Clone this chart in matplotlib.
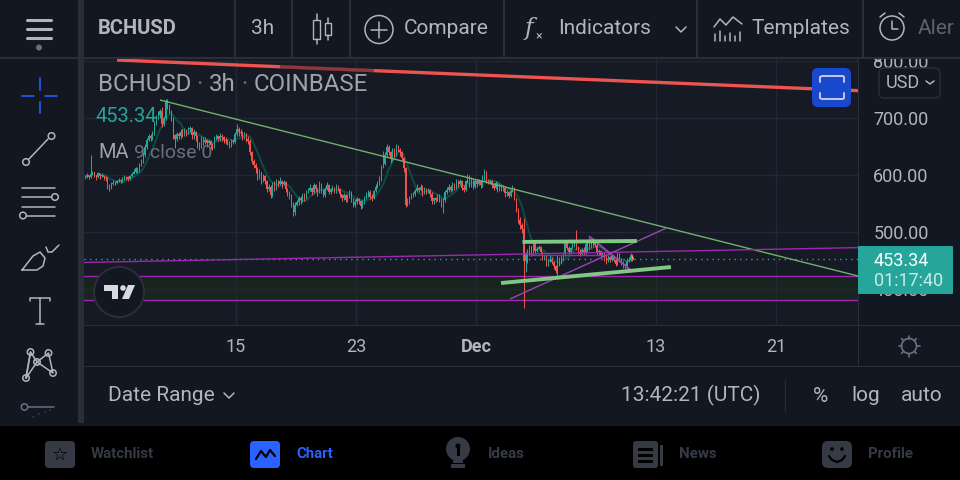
import matplotlib
matplotlib.use('Agg')
import matplotlib.pyplot as plt
import numpy as np
import pandas as pd
from matplotlib.patches import Circle, FancyBboxPatch, Polygon, Rectangle

plt.rcParams['font.family'] = ['Roboto', 'DejaVu Sans']

# 3h candles, 8 per row = one day
closes = [
    597, 600, 596, 602, 605, 600, 597, 603,
    598, 600, 597, 595, 582, 578, 585, 587,
    586, 590, 592, 590, 593, 597, 596, 594,
    598, 602, 606, 612, 608, 618, 624, 636,
    650, 662, 668, 665, 672, 690, 700, 705,
    712, 690, 700, 730, 722, 712, 700, 670,
    664, 672, 668, 676, 670, 678, 672, 680,
    682, 670, 675, 668, 656, 650, 664, 658,
    662, 656, 660, 652, 650, 664, 668, 664,
    668, 666, 662, 660, 658, 652, 660, 658,
    672, 680, 676, 674, 668, 672, 664, 660,
    640, 625, 618, 612, 598, 605, 590, 598,
    590, 575, 580, 565, 585, 578, 590, 585,
    590, 584, 588, 575, 570, 565, 548, 535,
    548, 552, 560, 556, 565, 560, 570, 574,
    578, 570, 582, 575, 570, 585, 572, 565,
    576, 582, 570, 575, 578, 572, 580, 576,
    566, 560, 565, 556, 562, 570, 558, 548,
    552, 558, 555, 546, 552, 560, 566, 570,
    562, 560, 572, 580, 586, 592, 612, 620,
    636, 650, 640, 628, 645, 636, 650, 644,
    640, 630, 612, 548, 552, 560, 564, 566,
    572, 578, 574, 580, 568, 576, 570, 574,
    566, 554, 560, 556, 564, 558, 548, 556,
    570, 574, 580, 574, 584, 578, 590, 585,
    590, 578, 574, 590, 598, 584, 592, 580,
    590, 585, 590, 582, 598, 606, 590, 588,
    590, 582, 578, 586, 574, 582, 576, 578,
    568, 570, 564, 572, 578, 558, 540, 522,
    512, 505, 450, 463, 466, 475, 462, 479,
    467, 471, 474, 465, 454, 458, 442, 450,
    452, 448, 440, 432, 452, 448, 455, 462,
    483, 472, 466, 472, 478, 479, 470, 466,
    462, 468, 464, 480, 470, 484, 476, 486,
    478, 464, 467, 459, 462, 454, 449, 456,
    451, 458, 452, 444, 462, 452, 447, 442,
    440, 450, 452, 460, 453.34,
]
highs = [
    601, 603, 601, 635, 608, 606, 601, 606,
    604, 603, 601, 599, 597, 585, 588, 591,
    590, 592, 595, 594, 596, 600, 599, 598,
    601, 606, 610, 615, 614, 621, 628, 640,
    655, 665, 672, 672, 678, 694, 705, 712,
    716, 720, 704, 733, 733, 724, 714, 702,
    672, 676, 675, 680, 680, 682, 680, 684,
    686, 684, 680, 678, 670, 658, 668, 666,
    666, 664, 664, 662, 656, 668, 672, 670,
    674, 672, 668, 666, 664, 660, 664, 664,
    676, 690, 684, 680, 678, 676, 674, 668,
    664, 642, 628, 622, 614, 610, 606, 602,
    600, 592, 584, 582, 588, 590, 594, 592,
    596, 592, 592, 590, 578, 572, 566, 552,
    552, 556, 564, 564, 568, 568, 574, 578,
    584, 580, 586, 584, 578, 590, 586, 576,
    580, 588, 584, 578, 582, 580, 584, 582,
    578, 566, 568, 566, 566, 574, 572, 560,
    558, 562, 560, 556, 556, 564, 570, 574,
    574, 566, 574, 584, 590, 598, 618, 642,
    640, 654, 652, 642, 648, 648, 654, 652,
    648, 642, 632, 614, 560, 564, 568, 570,
    576, 584, 580, 584, 582, 580, 578, 578,
    576, 570, 562, 562, 566, 566, 560, 560,
    574, 580, 584, 582, 588, 586, 594, 592,
    594, 592, 582, 592, 602, 600, 596, 594,
    594, 594, 594, 592, 600, 610, 608, 594,
    594, 592, 586, 590, 588, 586, 584, 582,
    580, 574, 572, 576, 582, 580, 560, 542,
    526, 516, 525, 466, 470, 478, 476, 483,
    482, 474, 478, 476, 466, 462, 460, 454,
    460, 456, 450, 442, 460, 456, 460, 466,
    486, 484, 476, 474, 482, 482, 504, 476,
    470, 472, 474, 484, 484, 490, 488, 490,
    488, 482, 470, 468, 466, 466, 460, 460,
    458, 460, 460, 454, 466, 464, 454, 450,
    446, 454, 456, 463, 461,
]
lows = [
    593, 595, 593, 595, 600, 596, 592, 595,
    594, 596, 592, 590, 576, 572, 576, 582,
    582, 584, 588, 586, 588, 592, 592, 590,
    592, 596, 602, 604, 604, 606, 616, 622,
    632, 646, 660, 660, 662, 670, 688, 698,
    700, 685, 686, 696, 716, 708, 695, 664,
    647, 660, 664, 664, 666, 668, 668, 672,
    676, 664, 664, 660, 648, 644, 648, 652,
    654, 650, 652, 646, 644, 648, 662, 660,
    660, 660, 656, 654, 652, 648, 650, 654,
    656, 668, 668, 668, 662, 664, 658, 654,
    636, 620, 612, 604, 592, 594, 584, 588,
    584, 570, 572, 560, 562, 572, 574, 580,
    582, 578, 582, 570, 564, 558, 544, 528,
    530, 546, 548, 550, 552, 555, 558, 568,
    572, 565, 566, 570, 564, 568, 568, 562,
    562, 574, 566, 566, 572, 568, 568, 572,
    562, 555, 556, 552, 552, 560, 552, 544,
    544, 550, 550, 540, 542, 550, 558, 562,
    558, 555, 558, 570, 578, 582, 590, 612,
    618, 632, 636, 622, 624, 630, 634, 640,
    634, 624, 606, 544, 546, 550, 558, 562,
    564, 570, 570, 572, 564, 566, 566, 568,
    562, 550, 550, 552, 554, 552, 544, 533,
    552, 566, 570, 570, 572, 574, 576, 580,
    582, 574, 570, 572, 586, 580, 580, 576,
    578, 580, 582, 578, 580, 590, 586, 584,
    584, 578, 574, 576, 570, 572, 572, 572,
    562, 564, 560, 562, 570, 556, 536, 516,
    505, 498, 367, 431, 446, 458, 458, 460,
    464, 466, 470, 462, 452, 452, 440, 440,
    448, 444, 436, 428, 420, 440, 444, 452,
    458, 468, 462, 464, 470, 474, 468, 462,
    458, 460, 460, 462, 466, 468, 472, 474,
    474, 460, 460, 455, 456, 450, 445, 447,
    447, 450, 448, 440, 442, 448, 442, 438,
    436, 434, 448, 450, 450,
]
first_bar_day = -10.07   # days relative to Nov 15
bars_per_day = 8
last_price = 453.34

# drawn lines: (day start, price start, day end, price end)
green_thin = (-5.07, 731.5, 41.47, 423.3)
red_line = (-7.93, 801.5, 41.47, 747.8)
red_faded = (2.93, 789.8, 9.2, 783)
purple_long = (-10.13, 447, 41.47, 473)
purple_flat = (19.6, 460, 24.7, 460)
purple_up = (18.27, 383, 28.67, 507)
purple_down = (23.53, 493, 26.4, 432)
green_top = (19.1, 483, 26.73, 484.6)
green_bottom = (17.67, 411, 29, 439)
band_low, band_high = 381, 423

date_ticks = [0, 8, 16, 28, 36]
date_labels = ['15', '23', 'Dec', '13', '21']
price_ticks = [400, 500, 600, 700, 800]
price_labels = ['400.00', '500.00', '600.00', '700.00', '800.00']

BG = '#131722'
CHART_BG = '#161a25'
SEP = '#2a2e39'
TXT = '#b2b5be'
UP = '#26a69a'
DOWN = '#ef5350'
PURPLE = '#9c27b0'
LIGHT_GREEN = '#81c784'
NAV = '#363a45'
BLUE = '#2962ff'

fig = plt.figure(figsize=(9.6, 4.8), dpi=100, facecolor=BG)
ax = fig.add_axes([84 / 960, 1 - 325 / 480, 774 / 960, 267 / 480], facecolor=CHART_BG)
ax.set_xlim(-10.13, 41.47)
ax.set_ylim(337.5, 805)
ax.set_zorder(1)

ax.grid(color='#232733', lw=1, zorder=0.6)
ax.set_axisbelow(True)
ax.yaxis.tick_right()
ax.set_xticks(date_ticks, date_labels)
ax.set_yticks(price_ticks, price_labels)
ax.tick_params(axis='x', length=0, pad=9, labelsize=13, labelcolor=TXT)
ax.tick_params(axis='y', length=0, pad=11, labelsize=13, labelcolor=TXT)
for lab in ax.get_xticklabels():
    if lab.get_text() == 'Dec':
        lab.set_fontweight('bold')
for s in ax.spines.values():
    s.set_visible(False)

ax.axhspan(band_low, band_high, color='#172420', lw=0, zorder=0.4)
ax.axhline(band_low, color=PURPLE, lw=1, zorder=2)
ax.axhline(band_high, color=PURPLE, lw=1, zorder=2)

x = first_bar_day + np.arange(len(closes)) / bars_per_day
c = np.array(closes, dtype=float)
o = np.r_[c[0], c[:-1]]
colors = [UP if b >= a else DOWN for a, b in zip(o, c)]

ma = pd.Series(c).rolling(9).mean()
ax.plot(x, ma, color='#0b4a43', lw=1.5, zorder=3)
ax.vlines(x, lows, highs, colors=colors, lw=0.72, zorder=4)
ax.bar(x, np.abs(c - o), bottom=np.minimum(c, o), width=0.07, color=colors, lw=0, zorder=4)
ax.axhline(last_price, color=UP, lw=1, ls=(0, (1, 3)), zorder=4)
ax.plot([x[-1], x[-1] + 0.06], [last_price + 4, last_price], color='#f5b041', lw=1, zorder=5)


def seg(s, **kw):
    ax.plot([s[0], s[2]], [s[1], s[3]], solid_capstyle='butt', **kw)


seg(red_line, color=DOWN, lw=2.4, zorder=5)
seg(red_faded, color=CHART_BG, lw=2.6, alpha=0.45, zorder=6)
seg(green_thin, color='#6fb06f', lw=1, zorder=5)
seg(purple_long, color=PURPLE, lw=1, zorder=5)
seg(purple_flat, color=PURPLE, lw=1, zorder=5)
seg(purple_up, color='#9a45b2', lw=1, zorder=5)
seg(purple_down, color='#9a45b2', lw=1.3, zorder=5)
seg(green_top, color=LIGHT_GREEN, lw=2.8, zorder=6)
seg(green_bottom, color=LIGHT_GREEN, lw=2.8, zorder=6)

# everything around the chart, in screen pixels
ui = fig.add_axes([0, 0, 1, 1])
ui.set_xlim(0, 960)
ui.set_ylim(480, 0)
ui.axis('off')
ui.set_zorder(2)
ui.patch.set_alpha(0)


def rect(x0, y0, x1, y1, color, **kw):
    ui.add_patch(Rectangle((x0, y0), x1 - x0, y1 - y0, color=color, lw=0, **kw))


def line(xs, ys, color=TXT, lw=1.1, **kw):
    ui.plot(xs, ys, color=color, lw=lw, solid_capstyle='round', **kw)


def ring(cx, cy, r, color=TXT, lw=1.1, face='none'):
    ui.add_patch(Circle((cx, cy), r, fc=face, ec=color, lw=lw))


def label(tx, ty, s, size=15, color=TXT, ha='left', **kw):
    # va center sits a bit high for these fonts
    ui.text(tx, ty + 1.5, s, fontsize=size, color=color, ha=ha, va='center', **kw)


def rbox(x0, y0, x1, y1, r, fc, ec='none', lw=0):
    ui.add_patch(FancyBboxPatch((x0 + r, y0 + r), x1 - x0 - 2 * r, y1 - y0 - 2 * r,
                                boxstyle='round,pad=%f' % r, fc=fc, ec=ec, lw=lw))


# panels
rect(0, 0, 960, 57, BG)
rect(0, 57, 78, 423, BG)
rect(78, 0, 84, 423, SEP)
rect(0, 57, 960, 58.5, SEP)
rect(858, 58, 859, 366, SEP)
rect(84, 325, 960, 326, SEP)
rect(84, 366, 960, 367, SEP)
rect(84, 367, 960, 426, BG)
rect(0, 426, 960, 480, '#000000')
for sx in [235, 292, 350, 504, 697, 863]:
    rect(sx - 0.7, 0, sx + 0.7, 57, SEP)

# top toolbar
for ly in [20, 28.5, 38]:
    line([27, 51], [ly, ly], lw=2.2)
ui.add_patch(Circle((39, 47.5), 3, fc='#6b6f7b', ec='none'))
label(98, 27, 'BCHUSD', size=14.5, fontweight='bold')
label(263, 27, '3h', ha='center')
ui.add_patch(Rectangle((313, 20), 7, 19, fc='none', ec=TXT, lw=1))
line([316.5, 316.5], [14, 20])
line([316.5, 316.5], [39, 44])
ui.add_patch(Rectangle((325, 23), 6, 12, fc='none', ec=TXT, lw=1))
line([328, 328], [18, 23])
line([328, 328], [35, 40])
ring(379, 29.5, 14)
line([371, 387], [29.5, 29.5])
line([379, 379], [21.5, 37.5])
label(404, 27, 'Compare')
ui.text(529, 28, 'f', fontsize=17, color=TXT, ha='center', va='center', fontstyle='italic', family='DejaVu Serif')
ui.text(539, 36, '\u00d7', fontsize=9, color=TXT, ha='center', va='center')
label(558, 27, 'Indicators')
line([676, 681, 686], [27, 32, 27])
line([714, 720, 726, 733, 742], [27, 19, 25, 17, 24])
for bx, by in zip([715, 720, 725, 730, 735, 740], [34, 31, 36, 33, 36, 32]):
    line([bx, bx], [by, 41])
label(751, 27, 'Templates')
ring(892, 28, 12)
line([892, 892, 898], [21, 29, 29])
line([880, 885], [17, 13])
line([899, 904], [13, 17])
label(918, 27, 'Alert', color='#5f626c')
rect(954, 0, 960, 56, BG, zorder=4)

# left toolbar
line([22, 34], [96, 96], color='#1f55d8', lw=1.4)
line([45, 57], [96, 96], color='#1f55d8', lw=1.4)
line([40, 40], [78, 90], color='#1f55d8', lw=1.4)
line([40, 40], [102, 113], color='#1f55d8', lw=1.4)
line([29, 48], [159, 139])
ring(26, 162, 3.3)
ring(51.5, 136, 3.3)
for ly, x0, x1 in [(188, 22, 55), (197, 22, 51), (206.5, 22, 55), (215.5, 27, 55)]:
    line([x0, x1], [ly, ly])
ring(55, 197, 3.3)
ring(23, 215.5, 3.3)
line([22, 33, 40, 45, 43, 37, 22], [270, 256, 252, 258, 266, 270, 270])
line([46, 48, 52, 59], [247, 252, 252, 245])
line([30, 30, 50, 50], [301, 298, 298, 301])
line([40, 40], [298, 324])
line([36, 44], [324, 324])
nodes_x = [30.5, 48.5, 37, 26, 53]
nodes_y = [352, 353, 362, 378, 373]
line([26, 30.5, 37, 48.5, 53, 37, 26], [378, 352, 362, 353, 373, 362, 378])
line([30.5, 26], [352, 378])
for nx, ny in zip(nodes_x, nodes_y):
    ring(nx, ny, 3.2, face=BG)
ring(24.5, 407, 3.2, color='#6b6f7b')
line([28, 54], [407, 407], color='#6b6f7b')
for dx, dy in zip([33, 39, 45, 50], [417, 414, 412, 410]):
    ui.add_patch(Circle((dx, dy), 0.7, fc='#555964', ec='none'))

# legend over the chart
label(98, 83, 'BCHUSD', size=17.3, color='#a0a3ac')
ui.text(199, 84, '\u00b7', fontsize=17.3, color='#6b6f7b', ha='center', va='center')
label(209, 83, '3h', size=17.3, color='#a0a3ac')
ui.text(244, 84, '\u00b7', fontsize=17.3, color='#6b6f7b', ha='center', va='center')
label(254, 83, 'COINBASE', size=17.3, color='#a0a3ac')
label(96, 115, '453.34', size=14.5, color=UP)
label(98, 151, 'MA', size=14.5, color='#a0a3ac')
label(134, 151, '9 close 0', size=14, color='#6b6f7b')

# tradingview badge
ring(119, 292, 25, color='#2a2e39', lw=1.5, face='#131722')
ui.add_patch(Polygon([(104, 285), (118, 285), (118, 299), (112, 299), (112, 291), (104, 291)], fc='#d8dae0', ec='none'))
ui.add_patch(Circle((123, 288), 2.8, fc='#d8dae0', ec='none'))
ui.add_patch(Polygon([(128, 285), (135, 285), (129, 299), (122, 299)], fc='#d8dae0', ec='none'))

# fullscreen button and currency box
rbox(812, 68, 851, 107, 6, '#1848cc')
line([820, 820, 822, 843, 844, 844], [82, 77, 76, 76, 77, 82], color='#c5cae9', lw=1.4)
line([820, 820, 822, 843, 844, 844], [93, 98, 99, 99, 98, 93], color='#c5cae9', lw=1.4)
rbox(879, 68, 940, 98, 5, BG, ec=SEP, lw=1)
label(886, 81, 'USD', size=13)
line([926, 930, 934], [81, 84, 81], lw=1.1)

# price tag
rbox(858, 246, 953, 294, 1, UP)
label(874, 259, '453.34', size=13, color='#ffffff')
label(874, 280, '01:17:40', size=13, color='#c8ebe6')

# gear in the scale corner
ring(909, 346, 7.5, color='#6b6f7b', lw=1.2)
for dx, dy in [(0, -1), (0, 1), (1, 0), (-1, 0), (0.7, 0.7), (-0.7, 0.7), (0.7, -0.7), (-0.7, -0.7)]:
    line([909 + 7.5 * dx, 909 + 10.5 * dx], [346 + 7.5 * dy, 346 + 10.5 * dy], color='#6b6f7b', lw=1.2)

# date range row
label(108, 394, 'Date Range')
line([224, 229, 234], [393, 398, 393])
label(621, 394, '13:42:21 (UTC)')
rect(784.5, 380, 785.5, 412, SEP)
label(820, 395, '%', ha='center')
label(866, 394, 'log', ha='center')
label(922, 394, 'auto', ha='center')

# bottom navigation
rbox(45, 441, 75, 468, 4, NAV)
ui.text(60, 454.5, '\u2606', fontsize=13, color='#000000', ha='center', va='center', family='DejaVu Sans')
label(91, 452, 'Watchlist', size=10.8, color=NAV, fontweight='bold')
rbox(250, 441, 280, 468, 4, BLUE)
line([256, 261, 266, 270, 275], [459, 451, 457, 450, 456], color='#000000', lw=1.6)
label(296, 452, 'Chart', size=10.8, color=BLUE, fontweight='bold')
ui.add_patch(Circle((458, 449), 12, fc=NAV, ec='none'))
rect(453, 458, 463, 463, NAV)
rect(451, 464, 465, 468, NAV)
rect(456.5, 446, 459.5, 456, '#000000')
ui.add_patch(Circle((458, 446), 2.5, fc='#000000', ec='none'))
label(488, 452, 'Ideas', size=10.8, color=NAV, fontweight='bold')
rbox(633, 441, 658, 468, 3, NAV)
rect(660, 445, 663, 466, NAV)
for ly in [448, 454, 460]:
    rect(638, ly, 653, ly + 3, '#000000')
label(679, 452, 'News', size=10.8, color=NAV, fontweight='bold')
rbox(822, 441, 852, 468, 6, NAV)
ui.add_patch(Circle((832, 449), 1.8, fc='#000000', ec='none'))
ui.add_patch(Circle((842, 449), 1.8, fc='#000000', ec='none'))
line([829, 832, 837, 842, 845], [456, 460, 462, 460, 456], color='#000000', lw=1.6)
label(868, 452, 'Profile', size=10.8, color=NAV, fontweight='bold')

fig.savefig('out.png', dpi=100, facecolor=BG)
